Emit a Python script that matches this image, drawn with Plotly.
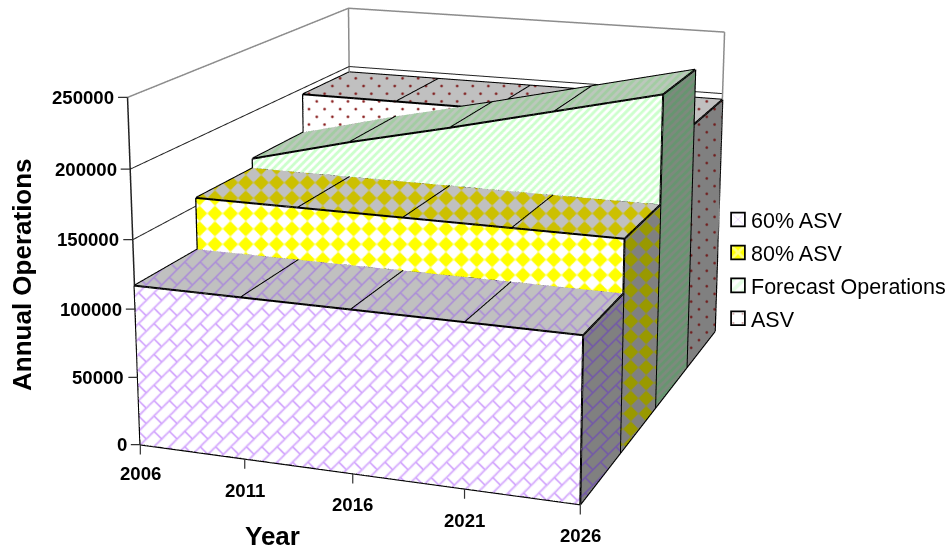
import numpy as np
import plotly.graph_objects as go

years = [2006, 2011, 2016, 2021, 2026]
series_names = ["60% ASV", "80% ASV", "Forecast Operations", "ASV"]
asv_60 = [117000, 117000, 117000, 117000, 117000]
asv_80 = [156000, 156000, 156000, 156000, 156000]
forecast = [163500, 183000, 200500, 219000, 237500]
asv = [195000, 195000, 195000, 195000, 195000]
series_values = [asv_60, asv_80, forecast, asv]
z_ticks = [0, 50000, 100000, 150000, 200000, 250000]
Z_MAX = 250000

# Plotly's perspective has a fixed 45 degree field of view, so a long lens needs a tall
# scene viewport; the page then shows the 950x546 window of it that holds the chart.
FIG_W, FIG_H = 986, 1780
TOP_OFFSET = 705
FOCAL = (FIG_H / 2) / np.tan(np.pi / 8)
ASPECT = np.array([1.2941, 1.5571, 1.0])
EYE = np.array([2.1198, -5.8549, 1.7032])
VIEW_N = np.array([0.3112, -0.9181, 0.2454])
VIEW_R = np.array([0.9466, 0.3224, 0.0057])
VIEW_U = np.array([-0.0843, 0.2306, 0.9694])
CENTER = EYE - 6.45 * VIEW_N
Y_EDGES = [-0.5, 0.5, 1.5, 2.5, 3.5]
# axis ranges reach just past the box so faces on its bounds are not clipped
PAD = 0.002


def paper_y(y):
    return 1 - (y + TOP_OFFSET) / FIG_H


def to_screen(X, Y, Z):
    # window position of a data point, used to keep the fill patterns flat on the screen
    P = np.stack([((X - 2006) / 20 - 0.5) * ASPECT[0] - EYE[0],
                  ((Y + 0.5) / 4 - 0.5) * ASPECT[1] - EYE[1],
                  (Z / Z_MAX - 0.5) * ASPECT[2] - EYE[2]], axis=-1)
    d = -(P @ VIEW_N)
    return FIG_W / 2 + FOCAL * (P @ VIEW_R) / d, FIG_H / 2 - TOP_OFFSET - FOCAL * (P @ VIEW_U) / d


def soft(d, half):
    return np.clip(half + 0.5 - np.abs(d), 0, 1)


def bricks(sx, sy):
    p = 15.4
    s2 = np.sqrt(2)
    a = (sx + sy) / p
    b = (sx - sy) / p
    row = np.floor(a)
    da = (a - np.round(a)) * p / s2
    shifted = b + row
    db = (shifted / 2 - np.round(shifted / 2)) * 2 * p / s2
    return np.maximum(soft(da, 0.8), soft(db, 0.8))


def diamonds(sx, sy):
    p = 15.4
    a = ((sx - 215) + (sy - 213.3)) / p + 0.5
    b = ((sx - 215) - (sy - 213.3)) / p + 0.5
    m = np.sin(np.pi * a) * np.sin(np.pi * b)
    return np.clip(m * 6 + 0.5, 0, 1)


def stripes(sx, sy):
    return np.clip(np.sin(2 * np.pi * (sx + sy) / 8) * 2.5 + 0.5, 0, 1)


def dots(sx, sy):
    dx, dy = 15.6, 7.7
    j = np.round((sy - 109) / dy)
    ox = sx - 309 + (j % 2) * dx / 2
    ex = ox - np.round(ox / dx) * dx
    ey = sy - 109 - j * dy
    return np.clip(1.8 - np.hypot(ex, ey), 0, 1)


styles = [
    (bricks, [("#ffffff", "#cf9ffd"), ("#c0c0c0", "#ab8cd8"), ("#808080", "#7358a8")]),
    (diamonds, [("#ffffff", "#ffff00"), ("#c0c0c0", "#ccc000"), ("#808080", "#999900")]),
    (stripes, [("#ffffff", "#ccffcc"), ("#bcc8bc", "#a3cca3"), ("#7d8a7d", "#679570")]),
    (dots, [("#ffffff", "#8a2020"), ("#c0c0c0", "#802020"), ("#808080", "#702020")]),
]


def surface(X, Y, Z, pattern, colors):
    sx, sy = to_screen(X, Y, Z)
    return go.Surface(
        x=X.astype("f4"), y=Y.astype("f4"), z=Z.astype("f4"),
        surfacecolor=pattern(sx, sy).astype("f4"),
        cmin=0, cmax=1, showscale=False, hoverinfo="skip",
        colorscale=[[0, colors[0]], [1, colors[1]]],
        lighting=dict(ambient=1, diffuse=0, specular=0, fresnel=0, roughness=1),
    )


def padded(lo, hi):
    span = hi - lo
    return [lo - PAD * span, hi + PAD * span]


def lines(xs, ys, zs, color, width):
    return go.Scatter3d(x=xs, y=ys, z=zs, mode="lines", line=dict(color=color, width=width),
                        hoverinfo="skip", showlegend=False)


fig = go.Figure()

# gridlines on the left and back walls, then the wall frame
gx, gy, gz = [], [], []
for zt in z_ticks[1:-1]:
    gx += [2006, 2006, 2026, None]
    gy += [-0.5, 3.5, 3.5, None]
    gz += [zt, zt, zt, None]
fig.add_trace(lines(gx, gy, gz, "#222222", 2))
fig.add_trace(lines([2006, 2006, 2006, None, 2026, 2026, None, 2006, 2026],
                    [-0.5, 3.5, 3.5, None, 3.5, 3.5, None, 3.5, 3.5],
                    [Z_MAX, Z_MAX, 0, None, 0, Z_MAX, None, Z_MAX, Z_MAX], "#8c8c8c", 3))
fig.add_trace(lines([2006, 2006], [-0.5, -0.5], [0, Z_MAX], "#222222", 3))

prev = np.zeros(5)
nu = 450
for i, (vals, (pattern, cols)) in enumerate(zip(series_values, styles)):
    vals = np.array(vals, float)
    y0, y1 = Y_EDGES[i], Y_EDGES[i + 1]
    xs = np.linspace(2006, 2026, nu)
    h = np.interp(xs, years, vals)
    lo = np.minimum(h, np.interp(xs, years, prev))
    # front face, only above what stands in front of it
    nv = int(max((h - lo).max() / Z_MAX * 360, 4))
    v = np.linspace(0, 1, nv)[:, None]
    X = np.tile(xs, (nv, 1))
    Y = np.full_like(X, y0)
    Z = lo + v * (h - lo)
    fig.add_trace(surface(X, Y, Z, pattern, cols[0]))
    # top face
    nd = 70
    d = np.linspace(y0, y1, nd)[:, None]
    X = np.tile(xs, (nd, 1))
    Y = np.tile(d, (1, nu))
    Z = np.tile(h, (nd, 1))
    fig.add_trace(surface(X, Y, Z, pattern, cols[1]))
    # end face at the last year
    nv = int(vals[-1] / Z_MAX * 420)
    d = np.linspace(y0, y1, 100)
    Y, Zf = np.meshgrid(d, np.linspace(0, vals[-1], nv))
    X = np.full_like(Y, 2026.0)
    fig.add_trace(surface(X, Y, Zf, pattern, cols[2]))
    # outlines
    ex, ey, ez = [], [], []

    def seg(xx, yy, zz):
        ex.extend(list(xx) + [None])
        ey.extend(list(yy) + [None])
        ez.extend(list(zz) + [None])

    seg(years, [y0] * 5, vals)
    seg(years, [y1] * 5, vals)
    for yr, val in zip(years, vals):
        seg([yr, yr], [y0, y1], [val, val])
    seg([2006, 2006], [y0, y0], [prev[0], vals[0]])
    seg([2026, 2026], [y0, y0], [0, vals[-1]])
    seg([2026, 2026], [y1, y1], [0, vals[-1]])
    seg([2026, 2026], [y0, y1], [0, 0])
    seg([2006, 2026], [y0, y0], [0, 0])
    fig.add_trace(lines(ex, ey, ez, "#000000", 4))
    prev = vals

tick_notes = []
tick_font = dict(family="Liberation Sans", size=18.6, color="#000000", weight="bold")
for zt in z_ticks:
    tick_notes.append(dict(x=2006, y=-0.5, z=zt, text=str(zt), showarrow=True, arrowhead=0, arrowwidth=1.2,
                           arrowcolor="#333333", ax=-12.5, ay=0, xanchor="right", yanchor="middle",
                           font=tick_font, borderpad=0, standoff=0, startstandoff=3))
for yr in years:
    tick_notes.append(dict(x=yr, y=-0.5, z=0, text=" ", showarrow=True, arrowhead=0, arrowwidth=1.2,
                           arrowcolor="#333333", ax=0, ay=10, yanchor="top", font=dict(size=1), borderpad=0))
    tick_notes.append(dict(x=yr, y=-0.5, z=0, text=str(yr), showarrow=False, xanchor="center",
                           yanchor="middle", yshift=-29 if yr == years[0] else -31.5, font=tick_font))

axis = dict(showgrid=False, showticklabels=False, showline=False, zeroline=False, showbackground=False,
            showspikes=False, title=dict(text=""), ticks="")
stretch = 1 + 2 * PAD
fig.update_layout(
    width=FIG_W, height=FIG_H, margin=dict(l=0, r=0, t=0, b=0), paper_bgcolor="#ffffff",
    font=dict(family="Liberation Sans", color="#000000"),
    scene=dict(
        domain=dict(x=[0, 1], y=[0, 1]),
        xaxis=dict(axis, range=padded(2006, 2026)),
        yaxis=dict(axis, range=padded(-0.5, 3.5)),
        zaxis=dict(axis, range=padded(0, Z_MAX)),
        aspectmode="manual",
        aspectratio=dict(x=float(ASPECT[0] * stretch), y=float(ASPECT[1] * stretch), z=float(ASPECT[2] * stretch)),
        camera=dict(eye=dict(x=float(EYE[0]), y=float(EYE[1]), z=float(EYE[2])),
                    center=dict(x=float(CENTER[0]), y=float(CENTER[1]), z=float(CENTER[2])),
                    up=dict(x=float(VIEW_U[0]), y=float(VIEW_U[1]), z=float(VIEW_U[2])),
                    projection=dict(type="perspective")),
        annotations=tick_notes,
    ),
    xaxis=dict(visible=False, domain=[0, 0.01]), yaxis=dict(visible=False, domain=[0, 0.01]),
    showlegend=True,
    legend=dict(x=711 / FIG_W, y=paper_y(199), xanchor="left", yanchor="top", bgcolor="rgba(0,0,0,0)",
                font=dict(size=21.5, family="Liberation Sans"), tracegroupgap=2, itemclick=False),
    annotations=[
        dict(text="Annual Operations", xref="paper", yref="paper", x=22 / FIG_W, y=paper_y(275), textangle=-90,
             showarrow=False, xanchor="center", yanchor="middle", font=dict(size=26, weight="bold")),
        dict(text="Year", xref="paper", yref="paper", x=272 / FIG_W, y=paper_y(536), showarrow=False,
             xanchor="center", yanchor="middle", font=dict(size=26, weight="bold")),
    ],
)

swatches = [
    dict(shape="x", fgcolor="#cc99ff", bgcolor="#ffffff", size=12, solidity=0.15),
    dict(shape="x", fgcolor="#ffffff", bgcolor="#ffff00", size=12, solidity=0.5),
    dict(shape="/", fgcolor="#ccffcc", bgcolor="#ffffff", size=8, solidity=0.5),
    dict(shape=".", fgcolor="#8a2020", bgcolor="#ffffff", size=12, solidity=0.03),
]
for name, sw in zip(series_names, swatches):
    fig.add_trace(go.Bar(x=[2006], y=[None], name=name, legendgroup=name, showlegend=True,
                         marker=dict(pattern=sw, line=dict(color="#000000", width=1.5), color="#ffffff")))

# show only the chart's window of the tall page, and set the legend swatches closer to their labels
shift_page = f"""
var gd = document.getElementById('{{plot_id}}');
gd.style.position = 'absolute';
gd.style.left = '0px';
gd.style.top = '-{TOP_OFFSET}px';
[document.documentElement, document.body].forEach(function (el) {{
  el.style.height = '546px';
  el.style.width = '950px';
  el.style.overflow = 'hidden';
}});
gd.querySelectorAll('.legendpoints').forEach(function (el) {{
  el.setAttribute('transform', 'translate(4,0) scale(1.15)');
}});
"""
fig.write_html("out.html", post_script=shift_page)
